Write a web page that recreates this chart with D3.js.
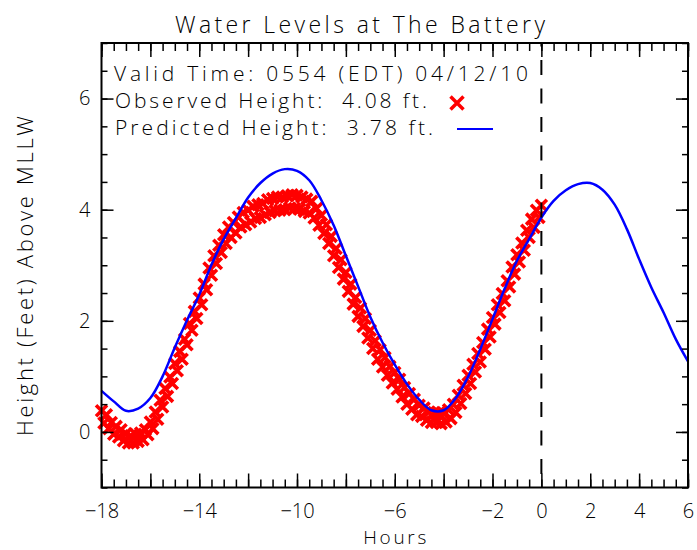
<!DOCTYPE html>
<html>
<head>
<meta charset="utf-8">
<script src="https://cdn.jsdelivr.net/npm/d3@7"></script>
<style>
  body { margin: 0; background: #fff; }
  text { font-family: "Open Sans", "DejaVu Sans", sans-serif; font-weight: 300; fill: #000; }
</style>
</head>
<body>
<svg id="chart" width="697" height="550"></svg>
<script>
// ---- data ----
const TITLE = "Water Levels at The Battery";
const X_LABEL = "Hours";
const Y_LABEL = "Height (Feet) Above MLLW";
const legendLines = [
  "Valid Time: 0554 (EDT) 04/12/10",
  "Observed Height:  4.08 ft.",
  "Predicted Height:  3.78 ft."
];
const xTickLabels = [-18, -14, -10, -6, -2, 0, 2, 4, 6];
const yTickLabels = [0, 2, 4, 6];

// predicted tide, every half hour from -18 h to +6 h
const predStart = -18, predStep = 0.5;
const predicted = [
  0.74, 0.55, 0.38, 0.42, 0.61, 1.00, 1.52, 2.01, 2.47, 3.01,
  3.47, 3.85, 4.22, 4.48, 4.65, 4.73, 4.70, 4.53, 4.17, 3.72,
  3.17, 2.62, 2.07, 1.61, 1.21, 0.86, 0.58, 0.39, 0.39, 0.61,
  0.99, 1.49, 2.03, 2.58, 3.08, 3.47, 3.86, 4.16, 4.35, 4.46,
  4.48, 4.36, 4.09, 3.65, 3.11, 2.60, 2.15, 1.67, 1.27
];

// observed water level, every 6 minutes from -18 h to 0 h
const obsStart = -18, obsStep = 0.1;
const observed = [
  0.38, 0.16, 0.31, 0.06, 0.17, -0.04, 0.10, -0.09, 0.04, -0.16,
  -0.03, -0.20, -0.07, -0.20, -0.04, -0.17, -0.02, -0.14, 0.04, -0.05,
  0.18, 0.06, 0.36, 0.23, 0.57, 0.45, 0.78, 0.64, 0.99, 0.87,
  1.23, 1.10, 1.45, 1.31, 1.67, 1.57, 1.95, 1.83, 2.17, 2.04,
  2.41, 2.29, 2.66, 2.56, 2.95, 2.82, 3.17, 3.03, 3.36, 3.23,
  3.55, 3.39, 3.69, 3.50, 3.77, 3.58, 3.87, 3.69, 3.95, 3.73,
  3.99, 3.78, 4.06, 3.84, 4.09, 3.86, 4.11, 3.91, 4.18, 3.95,
  4.20, 3.98, 4.23, 3.99, 4.23, 4.00, 4.25, 4.03, 4.27, 4.02,
  4.26, 4.01, 4.23, 3.97, 4.19, 3.94, 4.15, 3.85, 4.02, 3.72,
  3.90, 3.57, 3.73, 3.39, 3.52, 3.17, 3.30, 2.96, 3.10, 2.75,
  2.87, 2.53, 2.66, 2.30, 2.42, 2.08, 2.23, 1.90, 2.04, 1.69,
  1.83, 1.50, 1.64, 1.31, 1.48, 1.17, 1.34, 1.02, 1.18, 0.88,
  1.07, 0.77, 0.95, 0.63, 0.80, 0.50, 0.69, 0.41, 0.59, 0.31,
  0.48, 0.28, 0.43, 0.21, 0.36, 0.17, 0.35, 0.17, 0.34, 0.15,
  0.34, 0.18, 0.40, 0.24, 0.50, 0.35, 0.66, 0.51, 0.84, 0.69,
  1.02, 0.87, 1.22, 1.08, 1.41, 1.26, 1.61, 1.49, 1.85, 1.71,
  2.06, 1.94, 2.29, 2.15, 2.49, 2.36, 2.72, 2.61, 2.97, 2.84,
  3.19, 3.06, 3.40, 3.27, 3.63, 3.50, 3.83, 3.68, 3.99, 3.86,
  4.08
];

// ---- layout ----
const plotLeft = 101.5, plotRight = 688, plotTop = 43, plotBottom = 487.5;
const RED = "#ff0000", BLUE = "#0000ff";

const x = d3.scaleLinear().domain([-18, 6]).range([plotLeft, plotRight]);
const y = d3.scaleLinear().domain([-1, 7]).range([plotBottom, plotTop]);

const svg = d3.select("#chart");
svg.append("rect").attr("width", 697).attr("height", 550).attr("fill", "#fff");

const predData = predicted.map((v, i) => ({ h: predStart + i * predStep, v }));
const obsData = observed.map((v, i) => ({ h: obsStart + i * obsStep, v }));

// X mark path
const xMark = s => `M${-s},${-s}L${s},${s}M${-s},${s}L${s},${-s}`;

// observed markers
svg.append("g")
  .selectAll("path")
  .data(obsData)
  .join("path")
  .attr("transform", d => `translate(${x(d.h)},${y(d.v)})`)
  .attr("d", xMark(5.5))
  .attr("stroke", RED)
  .attr("stroke-width", 3.6)
  .attr("fill", "none");

// predicted line
svg.append("path")
  .datum(predData)
  .attr("fill", "none")
  .attr("stroke", BLUE)
  .attr("stroke-width", 2.5)
  .attr("d", d3.line().x(d => x(d.h)).y(d => y(d.v)).curve(d3.curveCatmullRom));

// "now" dashed line
svg.append("line")
  .attr("x1", x(0)).attr("x2", x(0))
  .attr("y1", y(7)).attr("y2", y(-1))
  .attr("stroke", "#000")
  .attr("stroke-width", 2)
  .attr("stroke-dasharray", "15,13.5")
  .attr("stroke-dashoffset", 11.5);

// ---- axes (ticks on all four sides, pointing inward) ----
const xMinor = d3.range(-18, 6.01, 0.5);
const xMajor = d3.range(-18, 6.01, 2);
const yMinor = d3.range(-1, 7.01, 0.5);
const yMajor = d3.range(0, 6.01, 2);
const fmt = d => (d < 0 ? "\u2212" + Math.abs(d) : String(d));

function styleAxis(g) {
  g.select(".domain").remove();
  g.selectAll(".tick line").attr("stroke", "#000").attr("stroke-width", 1.5);
  g.selectAll(".tick text")
    .attr("fill", "#000")
    .attr("font-family", null)
    .attr("font-size", 20);
}

svg.append("g").attr("transform", `translate(0,${plotBottom})`)
  .call(d3.axisBottom(x).tickValues(xMinor).tickSize(-8).tickFormat(""))
  .call(styleAxis);
svg.append("g").attr("transform", `translate(0,${plotBottom})`)
  .call(d3.axisBottom(x).tickValues(xMajor).tickSize(-14).tickPadding(16)
    .tickFormat(d => xTickLabels.includes(d) ? fmt(d) : ""))
  .call(styleAxis);
svg.append("g").attr("transform", `translate(0,${plotTop})`)
  .call(d3.axisTop(x).tickValues(xMinor).tickSize(-8).tickFormat(""))
  .call(styleAxis);
svg.append("g").attr("transform", `translate(0,${plotTop})`)
  .call(d3.axisTop(x).tickValues(xMajor).tickSize(-14).tickFormat(""))
  .call(styleAxis);

svg.append("g").attr("transform", `translate(${plotLeft},0)`)
  .call(d3.axisLeft(y).tickValues(yMinor).tickSize(-6).tickFormat(""))
  .call(styleAxis);
svg.append("g").attr("transform", `translate(${plotLeft},0)`)
  .call(d3.axisLeft(y).tickValues(yMajor).tickSize(-12).tickPadding(11)
    .tickFormat(d => yTickLabels.includes(d) ? fmt(d) : ""))
  .call(styleAxis);
svg.append("g").attr("transform", `translate(${plotRight},0)`)
  .call(d3.axisRight(y).tickValues(yMinor).tickSize(-6).tickFormat(""))
  .call(styleAxis);
svg.append("g").attr("transform", `translate(${plotRight},0)`)
  .call(d3.axisRight(y).tickValues(yMajor).tickSize(-12).tickFormat(""))
  .call(styleAxis);

// frame
svg.append("rect")
  .attr("x", plotLeft).attr("y", plotTop)
  .attr("width", plotRight - plotLeft).attr("height", plotBottom - plotTop)
  .attr("fill", "none").attr("stroke", "#000").attr("stroke-width", 2);

// ---- texts ----
svg.append("text")
  .attr("x", 175).attr("y", 33)
  .attr("font-size", 23)
  .attr("textLength", 370).attr("lengthAdjust", "spacing")
  .text(TITLE);

svg.append("text")
  .attr("x", (plotLeft + plotRight) / 2).attr("y", 544)
  .attr("text-anchor", "middle")
  .attr("font-size", 19)
  .attr("textLength", 63).attr("lengthAdjust", "spacing")
  .text(X_LABEL);

svg.append("text")
  .attr("transform", "translate(33,436) rotate(-90)")
  .attr("font-size", 22)
  .attr("textLength", 320).attr("lengthAdjust", "spacing")
  .text(Y_LABEL);

// legend block
const legendX = [114, 115, 115];
const legendY = [81, 108, 135];
const legendLen = [414, 312, 318];
svg.append("g")
  .selectAll("text")
  .data(legendLines)
  .join("text")
  .attr("x", (d, i) => legendX[i])
  .attr("y", (d, i) => legendY[i])
  .attr("font-size", 21)
  .style("white-space", "pre")
  .attr("textLength", (d, i) => legendLen[i])
  .attr("lengthAdjust", "spacing")
  .text(d => d);

svg.append("path")
  .attr("transform", "translate(457,103)")
  .attr("d", xMark(6.5))
  .attr("stroke", RED).attr("stroke-width", 3.5).attr("fill", "none");

svg.append("line")
  .attr("x1", 457).attr("x2", 493).attr("y1", 129).attr("y2", 129)
  .attr("stroke", BLUE).attr("stroke-width", 2);
</script>
</body>
</html>
